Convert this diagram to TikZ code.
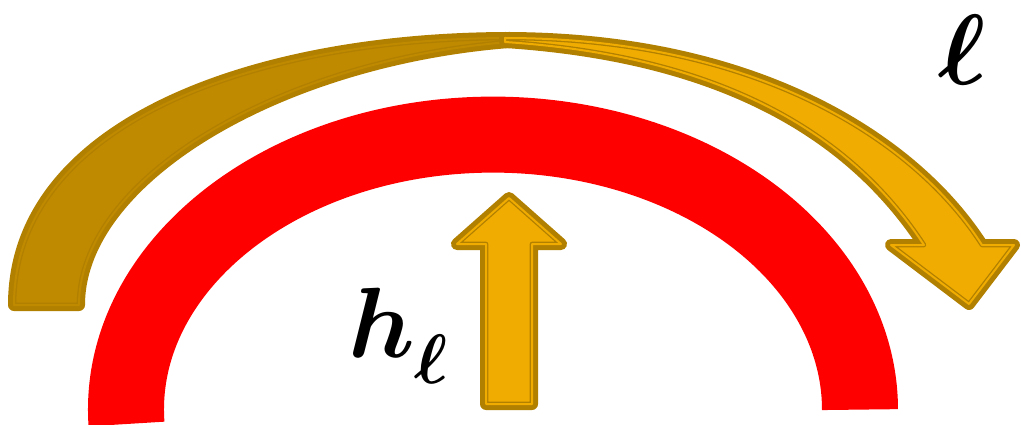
\RequirePackage{fix-cm}
\documentclass[tikz,border=0pt]{standalone}
\usepackage{amsmath,bm}
\usepackage{tikz}
\usetikzlibrary{calc}
\definecolor{ArcRed}{HTML}{FF0000}
\definecolor{GoldLine}{HTML}{B28000}
\definecolor{GoldBack}{HTML}{BF8900}
\definecolor{GoldFront}{HTML}{F0AC00}

\begin{document}
\begin{tikzpicture}[x=1pt,y=-1pt,
        gold/.style={preaction={draw=GoldLine,line width=12pt,line join=round},draw=GoldLine,line width=1.3pt,
          double=#1,double distance=2pt,fill=#1,line join=round},
        band/.style={draw=ArcRed,line width=76pt},
        lbl/.style={font=\fontsize{100pt}{110pt}\selectfont,inner sep=0pt}]
        \useasboundingbox (0,0) rectangle (1021,425);
        \draw[band] (126.5,424) arc[start angle=177,end angle=360,x radius=367,y radius=275];
        % back of the bent arrow
        \draw[gold=GoldBack] (14,305) .. controls (14,124) and (254,38) .. (510,38) -- (545,40)
          .. controls (300,48) and (79,172) .. (79,305) -- cycle;
        % front of the bent arrow
        \draw[gold=GoldFront] (969,304) -- (891,245) -- (924,245) .. controls (850,132) and (720,56) .. (505,42)
          -- (505,38) .. controls (760,38) and (916,142) .. (982,245) -- (1014,245) -- cycle;
        % up arrow
        \draw[gold=GoldFront] (486,404) -- (486,244) -- (457,244) -- (509,198) -- (561,244) -- (532,244) -- (532,404) -- cycle;
        \node[lbl,anchor=base] (ell) at (962,85) {$\bm{\ell}$};
        \node[lbl,anchor=base west] (hl) at (348,357) {$\bm{h}_{\lower11pt\hbox{$\scriptstyle\bm{\ell}$}}$};
      \end{tikzpicture}
\end{document}
